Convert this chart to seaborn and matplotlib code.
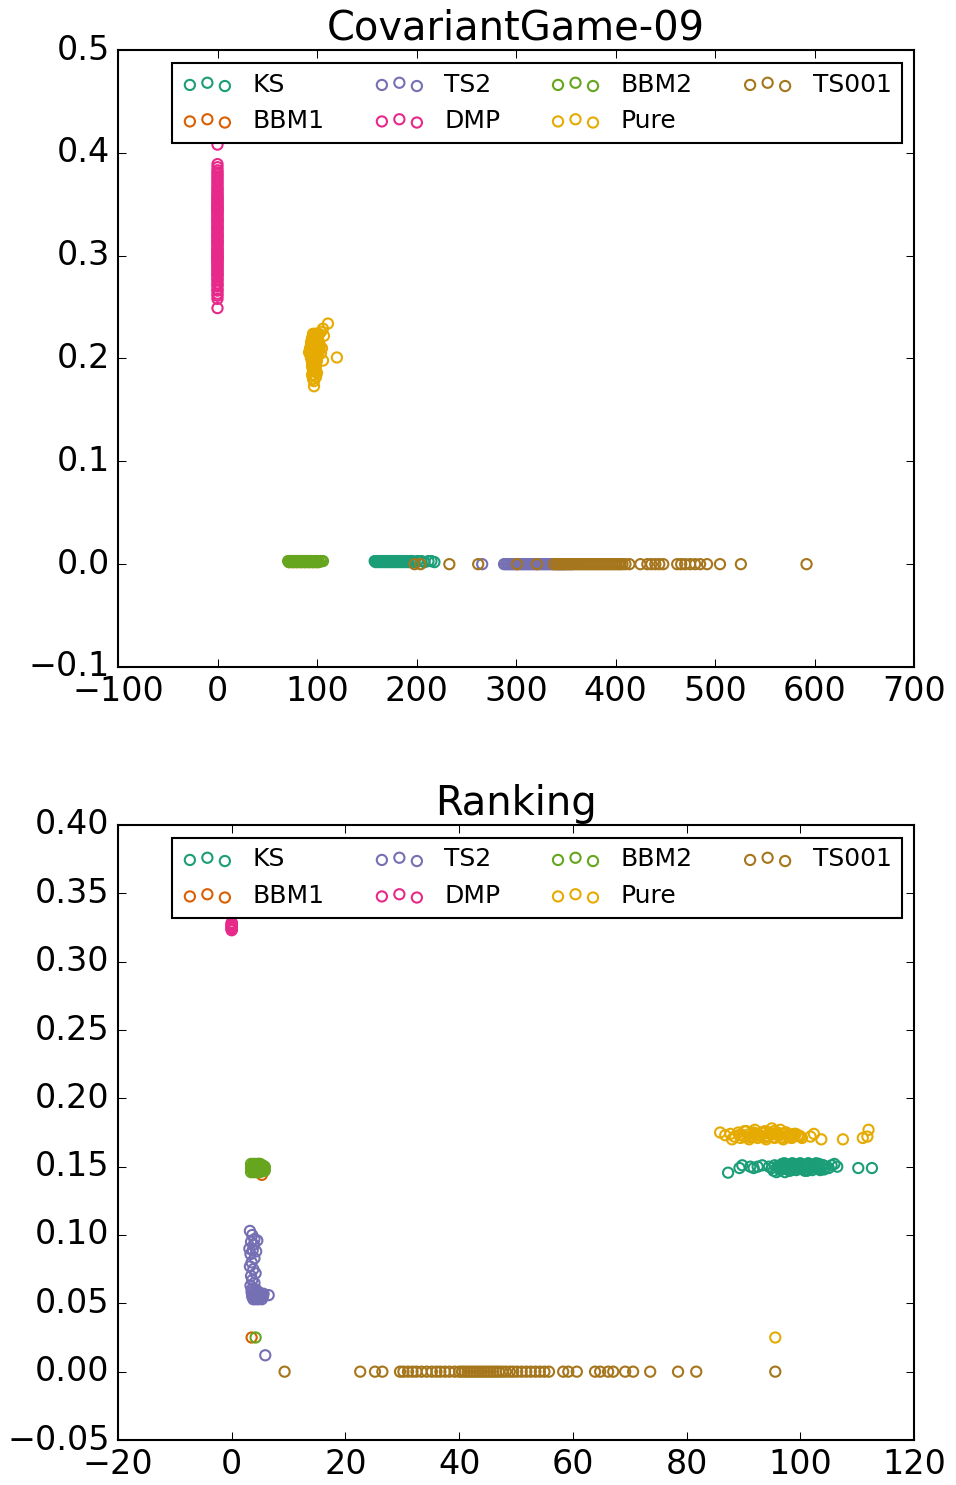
import matplotlib
matplotlib.use("Agg")
import matplotlib.pyplot as plt
import seaborn as sns

plt.style.use("classic")
plt.rcParams["font.family"] = ["DejaVu Sans"]
plt.rcParams["font.size"] = 16
plt.rcParams["figure.facecolor"] = "white"
plt.rcParams["savefig.facecolor"] = "white"

series_names = ["KS", "BBM1", "TS2", "DMP", "BBM2", "Pure", "TS001"]
colors = sns.color_palette("Dark2", 7)

# ---------------- CovariantGame-09 ----------------
cg_ks_x = [158, 159, 160, 161, 162, 163, 164, 165, 166, 167, 168, 169, 170, 171, 172,
           173, 174, 175, 176, 177, 178, 179, 180, 181, 182, 183, 184, 185, 186, 187,
           188, 189, 190, 191, 192, 194, 196, 198, 201, 205, 208, 212, 215, 218]
cg_ks_y = [0.003, 0.002, 0.003, 0.003, 0.002, 0.003, 0.003, 0.002, 0.003, 0.003, 0.002,
           0.003, 0.003, 0.002, 0.003, 0.003, 0.002, 0.003, 0.003, 0.002, 0.003, 0.003,
           0.002, 0.003, 0.003, 0.002, 0.003, 0.003, 0.002, 0.003, 0.003, 0.002, 0.003,
           0.003, 0.002, 0.003, 0.003, 0.002, 0.003, 0.003, 0.002, 0.003, 0.003, 0.002]

cg_bbm1_x = [72, 74, 76, 78, 80, 82, 84, 86, 88, 90, 92, 94, 96, 98, 100]
cg_bbm1_y = [0.002, 0.003, 0.002, 0.003, 0.002, 0.003, 0.002, 0.003, 0.002, 0.003,
             0.002, 0.003, 0.002, 0.003, 0.002]

cg_ts2_x = [266, 288, 290, 292, 294, 296, 298, 300, 302, 304, 306, 308, 310, 312, 314,
            316, 318, 320, 322, 324, 326, 328, 330, 332, 334, 336, 338, 340, 342, 344,
            346, 348, 350, 353, 356]
cg_ts2_y = [0.0, 0.0, 0.0, 0.0, 0.0, 0.0, 0.0, 0.0, 0.0, 0.0, 0.0, 0.0, 0.0, 0.0, 0.0,
            0.0, 0.0, 0.0, 0.0, 0.0, 0.0, 0.0, 0.0, 0.0, 0.0, 0.0, 0.0, 0.0, 0.0, 0.0,
            0.0, 0.0, 0.0, 0.0, 0.0]

cg_dmp_y = [0.249, 0.258, 0.261, 0.263, 0.266, 0.267, 0.270, 0.272, 0.273, 0.276, 0.277,
            0.279, 0.282, 0.283, 0.285, 0.288, 0.289, 0.291, 0.293, 0.296, 0.297, 0.299,
            0.301, 0.304, 0.305, 0.307, 0.309, 0.312, 0.313, 0.315, 0.318, 0.319, 0.321,
            0.323, 0.326, 0.327, 0.329, 0.331, 0.334, 0.335, 0.337, 0.339, 0.342, 0.343,
            0.345, 0.347, 0.349, 0.352, 0.353, 0.355, 0.357, 0.359, 0.362, 0.364, 0.367,
            0.371, 0.375, 0.379, 0.383, 0.386, 0.389, 0.408, 0.281, 0.286, 0.292, 0.295,
            0.298, 0.302, 0.306, 0.310, 0.314, 0.316, 0.320, 0.324, 0.328, 0.332, 0.336,
            0.340, 0.344, 0.348, 0.351, 0.356, 0.360, 0.365, 0.369, 0.373, 0.377, 0.381,
            0.300, 0.346]
cg_dmp_x = [0, 0, 0, 0, 0, 0, 0, 0, 0, 0, 0, 0, 0, 0, 0, 0, 0, 0, 0, 0, 0, 0, 0, 0, 0,
            0, 0, 0, 0, 0, 0, 0, 0, 0, 0, 0, 0, 0, 0, 0, 0, 0, 0, 0, 0, 0, 0, 0, 0, 0,
            0, 0, 0, 0, 0, 0, 0, 0, 0, 0, 0, 0, 0, 0, 0, 0, 0, 0, 0, 0, 0, 0, 0, 0, 0,
            0, 0, 0, 0, 0, 0, 0, 0, 0, 0, 0, 0, 0, 0, 0]

cg_bbm2_x = [71, 72, 73, 74, 75, 76, 77, 78, 79, 80, 81, 82, 83, 84, 85, 86, 87, 88,
             89, 90, 91, 92, 93, 94, 95, 96, 97, 98, 99, 100, 101, 102, 104, 106]
cg_bbm2_y = [0.003, 0.002, 0.003, 0.003, 0.002, 0.003, 0.003, 0.002, 0.003, 0.003,
             0.002, 0.003, 0.003, 0.002, 0.003, 0.003, 0.002, 0.003, 0.003, 0.002,
             0.003, 0.003, 0.002, 0.003, 0.003, 0.002, 0.003, 0.003, 0.002, 0.003,
             0.003, 0.002, 0.003, 0.003]

cg_pure_x = [96, 98, 100, 102, 95, 97, 99, 101, 94, 96, 98, 100, 102, 95, 97, 99, 101,
             103, 94, 96, 98, 100, 102, 93, 95, 97, 99, 101, 94, 96, 98, 100, 95, 97,
             99, 95, 97, 99, 96, 98, 95, 97, 96, 97, 106, 111, 104, 107, 120, 104, 106,
             105, 93, 92, 97, 99, 101, 96, 98, 100, 94, 96, 98, 100, 97, 99]
cg_pure_y = [0.224, 0.224, 0.224, 0.224, 0.220, 0.220, 0.220, 0.220, 0.216, 0.216, 0.216,
             0.216, 0.216, 0.212, 0.212, 0.212, 0.212, 0.212, 0.208, 0.208, 0.208, 0.208,
             0.208, 0.204, 0.204, 0.204, 0.204, 0.204, 0.200, 0.200, 0.200, 0.200, 0.196,
             0.196, 0.196, 0.192, 0.192, 0.192, 0.188, 0.188, 0.184, 0.184, 0.180, 0.173,
             0.229, 0.234, 0.226, 0.222, 0.201, 0.205, 0.198, 0.210, 0.210, 0.206, 0.218,
             0.214, 0.210, 0.206, 0.202, 0.198, 0.212, 0.194, 0.190, 0.186, 0.178, 0.182]

cg_ts001_x = [198, 204, 233, 262, 301, 321, 338, 341, 343, 345, 347, 349, 351, 353, 355,
              357, 359, 361, 363, 365, 367, 369, 371, 373, 375, 377, 379, 381, 383, 385,
              387, 389, 391, 393, 395, 397, 399, 401, 403, 405, 407, 410, 414, 425, 432,
              436, 440, 444, 448, 462, 466, 470, 475, 480, 485, 492, 505, 526, 592]
cg_ts001_y = [0.0, 0.0, 0.0, 0.0, 0.0, 0.0, 0.0, 0.0, 0.0, 0.0, 0.0, 0.0, 0.0, 0.0, 0.0,
              0.0, 0.0, 0.0, 0.0, 0.0, 0.0, 0.0, 0.0, 0.0, 0.0, 0.0, 0.0, 0.0, 0.0, 0.0,
              0.0, 0.0, 0.0, 0.0, 0.0, 0.0, 0.0, 0.0, 0.0, 0.0, 0.0, 0.0, 0.0, 0.0, 0.0,
              0.0, 0.0, 0.0, 0.0, 0.0, 0.0, 0.0, 0.0, 0.0, 0.0, 0.0, 0.0, 0.0, 0.0]

# ---------------- Ranking ----------------
rk_ks_x = [87.3, 89.3, 89.8, 91.2, 91.8, 92.5, 93.3, 94.5, 95.0, 95.5, 96.0, 96.5, 97.0,
           97.5, 98.0, 98.5, 99.0, 99.5, 100.0, 100.5, 101.0, 101.5, 102.0, 102.5, 103.0,
           103.5, 104.0, 104.5, 105.0, 105.5, 106.0, 106.5, 110.2, 112.6, 95.3, 96.8,
           98.2, 99.7, 101.2, 102.7, 104.2, 95.8, 97.3, 100.8, 103.3,
           96.2, 96.9, 97.6, 98.3, 99.0, 99.7, 100.4, 101.1, 101.8, 102.5, 103.2,
           96.5, 97.2, 97.9, 98.6, 99.3, 100.0, 100.7, 101.4, 102.1, 102.8, 103.5,
           96.0, 97.0, 98.0, 99.0, 100.0, 101.0, 102.0, 103.0, 104.0]
rk_ks_y = [0.1456, 0.149, 0.151, 0.150, 0.149, 0.150, 0.151, 0.150, 0.149, 0.151, 0.150,
           0.148, 0.151, 0.149, 0.150, 0.152, 0.148, 0.150, 0.151, 0.149, 0.150, 0.152,
           0.149, 0.151, 0.150, 0.148, 0.151, 0.150, 0.149, 0.151, 0.152, 0.150, 0.149,
           0.149, 0.147, 0.152, 0.147, 0.152, 0.147, 0.152, 0.148, 0.146, 0.146, 0.147,
           0.152,
           0.1495, 0.1505, 0.1485, 0.1515, 0.1495, 0.1505, 0.1485, 0.1515, 0.1495,
           0.1505, 0.1485,
           0.1475, 0.1525, 0.1475, 0.1525, 0.1475, 0.1525, 0.1475, 0.1525, 0.1475,
           0.1525, 0.1475,
           0.1500, 0.1490, 0.1510, 0.1500, 0.1490, 0.1510, 0.1500, 0.1490, 0.1510]

rk_bbm1_x = [4.2, 4.6, 5.0, 5.3, 5.2, 4.8, 3.5]
rk_bbm1_y = [0.148, 0.150, 0.147, 0.144, 0.150, 0.152, 0.025]

rk_ts2_x = [3.2, 3.6, 4.0, 3.4, 3.9, 3.1, 3.7, 4.3, 3.3, 4.0, 3.5, 3.2, 3.8, 4.2, 3.4,
            3.6, 4.0, 3.3, 3.7, 4.3, 3.5, 3.9, 4.4, 4.8, 5.2, 3.6, 4.0, 4.5, 5.0, 5.5,
            3.8, 4.2, 4.7, 5.3, 6.5, 4.5, 3.7, 4.1, 4.6, 5.1, 5.6, 3.9, 4.4, 4.9, 5.4,
            3.5, 4.3, 4.8, 5.9]
rk_ts2_y = [0.103, 0.100, 0.097, 0.095, 0.093, 0.090, 0.089, 0.088, 0.086, 0.083, 0.080,
            0.077, 0.075, 0.072, 0.070, 0.067, 0.065, 0.063, 0.061, 0.060, 0.058, 0.057,
            0.056, 0.056, 0.055, 0.055, 0.054, 0.054, 0.054, 0.055, 0.053, 0.053, 0.053,
            0.053, 0.056, 0.096, 0.0565, 0.0575, 0.0570, 0.0560, 0.0570, 0.0545, 0.0550,
            0.0545, 0.0560, 0.0600, 0.0590, 0.0580, 0.012]

rk_dmp_x = [0, 0, 0, 0, 0, 0, 0, 0, 0, 0, 0, 0]
rk_dmp_y = [0.323, 0.3235, 0.324, 0.3245, 0.325, 0.3255, 0.326, 0.3265, 0.327, 0.3275,
            0.328, 0.3285]

rk_bbm2_x = [3.4, 3.8, 4.2, 4.6, 5.0, 5.4, 5.8, 3.4, 3.8, 4.2, 4.6, 5.0, 5.4, 5.8, 3.4,
             3.8, 4.2, 4.6, 5.0, 5.4, 5.8, 3.6, 4.0, 4.4, 4.8, 5.2, 5.6, 3.6, 4.0, 4.4,
             4.8, 5.2, 4.2]
rk_bbm2_y = [0.146, 0.146, 0.146, 0.146, 0.146, 0.147, 0.147, 0.149, 0.149, 0.149, 0.149,
             0.149, 0.149, 0.149, 0.152, 0.152, 0.152, 0.152, 0.152, 0.151, 0.150, 0.150,
             0.150, 0.151, 0.151, 0.150, 0.148, 0.148, 0.147, 0.147, 0.148, 0.148, 0.025]

rk_pure_x = [85.9, 86.8, 87.7, 88.4, 89.1, 89.8, 90.5, 91.2, 91.9, 92.6, 93.3, 94.0, 94.7,
             95.4, 96.1, 96.8, 97.5, 98.2, 98.9, 99.6, 100.3, 88.0, 89.5, 91.0, 92.5,
             94.0, 95.5, 97.0, 98.5, 100.0, 90.2, 92.0, 93.8, 95.0, 96.5, 101.8, 102.4,
             103.7, 107.5, 111.0, 111.8, 112.0,
             90.8, 91.5, 92.2, 92.9, 93.6, 94.3, 95.0, 95.7, 96.4, 97.1, 97.8, 98.5,
             91.1, 91.8, 92.5, 93.2, 93.9, 94.6, 95.3, 96.0, 96.7, 97.4, 98.1,
             89.4, 90.1, 99.2, 99.9, 95.6]
rk_pure_y = [0.175, 0.173, 0.174, 0.172, 0.175, 0.173, 0.176, 0.172, 0.174, 0.173, 0.175,
             0.172, 0.174, 0.176, 0.173, 0.171, 0.175, 0.172, 0.174, 0.173, 0.171, 0.170,
             0.171, 0.170, 0.171, 0.170, 0.171, 0.170, 0.171, 0.172, 0.176, 0.177, 0.176,
             0.178, 0.177, 0.172, 0.174, 0.170, 0.170, 0.171, 0.172, 0.177,
             0.1735, 0.1725, 0.1740, 0.1730, 0.1745, 0.1725, 0.1735, 0.1745, 0.1730,
             0.1740, 0.1725, 0.1735,
             0.1715, 0.1750, 0.1715, 0.1750, 0.1715, 0.1750, 0.1715, 0.1750, 0.1715,
             0.1750, 0.1715,
             0.1735, 0.1720, 0.1740, 0.1725, 0.025]

rk_ts001_x = [9.3, 22.6, 25.2, 26.5, 29.6, 30.2, 31.0, 31.8, 32.5, 33.4, 34.3, 35.2, 36.0,
              36.7, 37.5, 38.3, 39.2, 40.0, 40.5, 41.0, 41.5, 42.0, 42.5, 43.0, 43.5,
              44.0, 44.5, 45.0, 45.5, 46.0, 46.5, 47.0, 47.6, 48.2, 48.9, 49.5, 50.2,
              51.0, 51.8, 52.6, 53.4, 54.2, 55.0, 55.8, 58.3, 59.2, 60.7, 63.9, 64.8,
              66.2, 67.1, 69.2, 70.6, 73.6, 78.5, 81.7, 95.6]
rk_ts001_y = [0.0, 0.0, 0.0, 0.0, 0.0, 0.0, 0.0, 0.0, 0.0, 0.0, 0.0, 0.0, 0.0, 0.0, 0.0,
              0.0, 0.0, 0.0, 0.0, 0.0, 0.0, 0.0, 0.0, 0.0, 0.0, 0.0, 0.0, 0.0, 0.0, 0.0,
              0.0, 0.0, 0.0, 0.0, 0.0, 0.0, 0.0, 0.0, 0.0, 0.0, 0.0, 0.0, 0.0, 0.0, 0.0,
              0.0, 0.0, 0.0, 0.0, 0.0, 0.0, 0.0, 0.0, 0.0, 0.0, 0.0, 0.0]

panels = [
    ("CovariantGame-09",
     [(cg_ks_x, cg_ks_y), (cg_bbm1_x, cg_bbm1_y), (cg_ts2_x, cg_ts2_y),
      (cg_dmp_x, cg_dmp_y), (cg_bbm2_x, cg_bbm2_y), (cg_pure_x, cg_pure_y),
      (cg_ts001_x, cg_ts001_y)],
     (-100, 700), (-0.1, 0.5),
     [-100, 0, 100, 200, 300, 400, 500, 600, 700],
     [-0.1, 0.0, 0.1, 0.2, 0.3, 0.4, 0.5], "{:.1f}"),
    ("Ranking",
     [(rk_ks_x, rk_ks_y), (rk_bbm1_x, rk_bbm1_y), (rk_ts2_x, rk_ts2_y),
      (rk_dmp_x, rk_dmp_y), (rk_bbm2_x, rk_bbm2_y), (rk_pure_x, rk_pure_y),
      (rk_ts001_x, rk_ts001_y)],
     (-20, 120), (-0.05, 0.40),
     [-20, 0, 20, 40, 60, 80, 100, 120],
     [-0.05, 0.0, 0.05, 0.10, 0.15, 0.20, 0.25, 0.30, 0.35, 0.40], "{:.2f}"),
]

W, H = 956, 1485
fig = plt.figure(figsize=(W / 150, H / 150), dpi=150)
axes_boxes = [(118, 50, 914, 667), (118, 825, 914, 1440)]

for (title, data, xlim, ylim, xt, yt, yfmt), (l, t, r, b) in zip(panels, axes_boxes):
    ax = fig.add_axes([l / W, 1 - b / H, (r - l) / W, (b - t) / H])
    for name, col, (xs, ys) in zip(series_names, colors, data):
        sns.scatterplot(x=xs, y=ys, ax=ax, s=24, color=col, facecolors="none",
                        edgecolor=col, linewidth=1.0, label=name)
    ax.set_xlim(*xlim)
    ax.set_ylim(*ylim)
    ax.set_xticks(xt)
    ax.set_yticks(yt)
    ax.set_xticklabels([str(v).replace("-", "\u2212") for v in xt])
    ax.set_yticklabels([yfmt.format(v).replace("-", "\u2212") for v in yt])
    ax.tick_params(labelsize=16)
    ax.set_title(title, fontsize=19.2)
    ax.legend(loc="upper right", ncol=4, scatterpoints=3, fontsize=12)

fig.savefig("out.png", dpi=150)
